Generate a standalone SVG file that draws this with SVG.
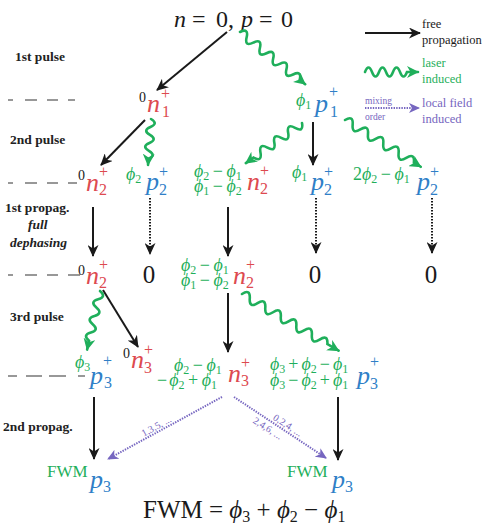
<svg xmlns="http://www.w3.org/2000/svg" width="499" height="525" viewBox="0 0 499 525">
<style>
text{font-family:"Liberation Serif","DejaVu Serif",serif;}
.i{font-style:italic;}
.lab{font-weight:bold;font-size:13.5px;fill:#222;}
.k{fill:#1a1a1a;}
.r{fill:#dd4a4f;}
.b{fill:#2f7fc7;}
.g{fill:#1faf5b;}
.pu{fill:#7666c0;}
.big{font-size:26px;font-style:italic;}
.sup{font-size:16px;}
.pre{font-size:14px;fill:#1a1a1a;}
.ph{font-size:18px;font-style:italic;fill:#1faf5b;}
.s{font-size:12px;font-style:normal;}
.n{font-style:normal;}
.zero{font-size:25px;fill:#1a1a1a;}
.arr{stroke:#1a1a1a;stroke-width:2;fill:none;marker-end:url(#ak);}
.dot{stroke:#1a1a1a;stroke-width:2;fill:none;stroke-dasharray:1.6,1.4;marker-end:url(#ak);}
.wav{stroke:#1faf5b;stroke-width:2.6;fill:none;marker-end:url(#ag);stroke-linecap:round;}
.pd{stroke:#7666c0;stroke-width:2;fill:none;stroke-dasharray:1.4,1.2;marker-end:url(#ap);}
.dash{stroke:#333;stroke-width:1.2;fill:none;}
.leg{font-size:12.5px;}
</style>
<defs>
<marker id="ak" markerUnits="userSpaceOnUse" markerWidth="13" markerHeight="11" refX="11" refY="5.5" orient="auto"><path d="M0,0 L12,5.5 L0,11 L3.5,5.5 Z" fill="#1a1a1a"/></marker>
<marker id="ag" markerUnits="userSpaceOnUse" markerWidth="13" markerHeight="12" refX="11" refY="6" orient="auto"><path d="M0,0 L12,6 L0,12 L3.5,6 Z" fill="#1faf5b"/></marker>
<marker id="ap" markerUnits="userSpaceOnUse" markerWidth="12" markerHeight="10" refX="10" refY="5" orient="auto"><path d="M0,0 L11,5 L0,10 L3,5 Z" fill="#7666c0"/></marker>
</defs>

<!-- left labels -->
<g id="labels">
<text class="lab" x="15" y="61">1st pulse</text>
<text class="lab" x="10" y="144">2nd pulse</text>
<text class="lab" x="5" y="212">1st propag.</text>
<text class="lab i" x="28" y="229">full</text>
<text class="lab i" x="10" y="247">dephasing</text>
<text class="lab" x="10" y="321">3rd pulse</text>
<text class="lab" x="3" y="431">2nd propag.</text>
<path class="dash" d="M8,100 H13 M25,100 H37 M47,100 H58 M68,100 H75"/>
<path class="dash" d="M8,183 H13 M25,183 H37 M47,183 H58 M68,183 H77"/>
<path class="dash" d="M8,275 H13 M25,275 H37 M47,275 H58 M68,275 H80"/>
<path class="dash" d="M8,376 H17 M26,376 H42 M49,376 H66 M78,376 H85"/>
</g>

<!-- title -->
<g id="start">
<text class="k" font-size="24" y="27"><tspan class="i" x="174">n</tspan><tspan x="192">=</tspan><tspan x="216">0,</tspan><tspan class="i" x="241">p</tspan><tspan x="259">=</tspan><tspan x="281">0</tspan></text>
</g>

<!-- legend -->
<g id="legend">
<path class="arr" d="M365,33 H420"/>
<text class="leg k" x="422" y="28">free</text>
<text class="leg k" x="422" y="44">propagation</text>
<path class="wav" transform="translate(365,72)" d="M0,0 q3.5,-9 7,0 t7,0 t7,0 t7,0 t7,0 t7,0 h11"/>
<text class="leg g" x="422" y="67">laser</text>
<text class="leg g" x="422" y="83">induced</text>
<text class="pu" font-size="9.5" x="365" y="104">mixing</text>
<text class="pu" font-size="9.5" x="365" y="120">order</text>
<path class="pd" d="M365,108 H419"/>
<text class="leg pu" x="422" y="107">local field</text>
<text class="leg pu" x="422" y="123">induced</text>
</g>

<!-- nodes row 1 -->
<g id="n1">
<text class="pre" x="139" y="102">0</text>
<text class="big r" x="147" y="112">n</text>
<text class="sup r" x="161" y="99">+</text>
<text class="sup r" x="162" y="117">1</text>
</g>
<g id="p1">
<text class="ph" x="296" y="106">ϕ<tspan class="s" dy="3">1</tspan></text>
<text class="big b" x="315" y="112">p</text>
<text class="sup b" x="329" y="97">+</text>
<text class="sup b" x="330" y="117">1</text>
</g>

<!-- row 2 -->
<g id="n2a">
<text class="pre" x="78" y="180">0</text>
<text class="big r" x="86" y="191">n</text>
<text class="sup r" x="99" y="177">+</text>
<text class="sup r" x="99" y="195">2</text>
</g>
<g id="p2a">
<text class="ph" x="126" y="180">ϕ<tspan class="s" dy="3">2</tspan></text>
<text class="big b" x="146" y="190">p</text>
<text class="sup b" x="159" y="177">+</text>
<text class="sup b" x="159" y="195">2</text>
</g>
<g id="n2b">
<text class="ph"><tspan x="194" y="177">ϕ</tspan><tspan class="s" dy="3">2</tspan><tspan class="n" dy="-3" dx="3.5">−</tspan><tspan dx="3.5">ϕ</tspan><tspan class="s" dy="3">1</tspan><tspan x="194" y="192">ϕ</tspan><tspan class="s" dy="3">1</tspan><tspan class="n" dy="-3" dx="3.5">−</tspan><tspan dx="3.5">ϕ</tspan><tspan class="s" dy="3">2</tspan></text>
<text class="big r" x="247" y="190">n</text>
<text class="sup r" x="260" y="176">+</text>
<text class="sup r" x="260" y="194">2</text>
</g>
<g id="p2b">
<text class="ph" x="292" y="178">ϕ<tspan class="s" dy="3">1</tspan></text>
<text class="big b" x="311" y="190">p</text>
<text class="sup b" x="324" y="177">+</text>
<text class="sup b" x="324" y="195">2</text>
</g>
<g id="p2c">
<text class="ph" x="353" y="180"><tspan class="n">2</tspan>ϕ<tspan class="s" dy="3">2</tspan><tspan class="n" dy="-3" dx="3.5">−</tspan><tspan dx="3.5">ϕ</tspan><tspan class="s" dy="3">1</tspan></text>
<text class="big b" x="417" y="190">p</text>
<text class="sup b" x="430" y="177">+</text>
<text class="sup b" x="430" y="195">2</text>
</g>

<!-- row 3 -->
<g id="n2c">
<text class="pre" x="78" y="275">0</text>
<text class="big r" x="86" y="284">n</text>
<text class="sup r" x="99" y="270">+</text>
<text class="sup r" x="99" y="288">2</text>
</g>
<g id="z1"><text class="zero" x="149" y="283" text-anchor="middle">0</text></g>
<g id="n2d">
<text class="ph"><tspan x="181" y="271">ϕ</tspan><tspan class="s" dy="3">2</tspan><tspan class="n" dy="-3" dx="3.5">−</tspan><tspan dx="3.5">ϕ</tspan><tspan class="s" dy="3">1</tspan><tspan x="181" y="286">ϕ</tspan><tspan class="s" dy="3">1</tspan><tspan class="n" dy="-3" dx="3.5">−</tspan><tspan dx="3.5">ϕ</tspan><tspan class="s" dy="3">2</tspan></text>
<text class="big r" x="233" y="284">n</text>
<text class="sup r" x="246" y="270">+</text>
<text class="sup r" x="246" y="288">2</text>
</g>
<g id="z2"><text class="zero" x="315" y="283" text-anchor="middle">0</text></g>
<g id="z3"><text class="zero" x="431" y="283" text-anchor="middle">0</text></g>

<!-- row 4 -->
<g id="p3a">
<text class="ph" x="75" y="368">ϕ<tspan class="s" dy="3">3</tspan></text>
<text class="big b" x="90" y="384">p</text>
<text class="sup b" x="103" y="366">+</text>
<text class="sup b" x="104" y="388">3</text>
</g>
<g id="n3a">
<text class="pre" x="123" y="358">0</text>
<text class="big r" x="131" y="368">n</text>
<text class="sup r" x="144" y="355">+</text>
<text class="sup r" x="144" y="373">3</text>
</g>
<g id="n3b">
<text class="ph"><tspan x="174" y="371">ϕ</tspan><tspan class="s" dy="3">2</tspan><tspan class="n" dy="-3" dx="3.5">−</tspan><tspan dx="3.5">ϕ</tspan><tspan class="s" dy="3">1</tspan><tspan class="n" x="157" y="386">−</tspan><tspan dx="2">ϕ</tspan><tspan class="s" dy="3">2</tspan><tspan class="n" dy="-3" dx="3.5">+</tspan><tspan dx="3.5">ϕ</tspan><tspan class="s" dy="3">1</tspan></text>
<text class="big r" x="228" y="382">n</text>
<text class="sup r" x="241" y="368">+</text>
<text class="sup r" x="241" y="386">3</text>
</g>
<g id="p3b">
<text class="ph"><tspan x="270" y="370">ϕ</tspan><tspan class="s" dy="3">3</tspan><tspan class="n" dy="-3" dx="3">+</tspan><tspan dx="3">ϕ</tspan><tspan class="s" dy="3">2</tspan><tspan class="n" dy="-3" dx="3">−</tspan><tspan dx="3">ϕ</tspan><tspan class="s" dy="3">1</tspan><tspan x="270" y="386">ϕ</tspan><tspan class="s" dy="3">3</tspan><tspan class="n" dy="-3" dx="3">−</tspan><tspan dx="3">ϕ</tspan><tspan class="s" dy="3">2</tspan><tspan class="n" dy="-3" dx="3">+</tspan><tspan dx="3">ϕ</tspan><tspan class="s" dy="3">1</tspan></text>
<text class="big b" x="357" y="384">p</text>
<text class="sup b" x="370" y="367">+</text>
<text class="sup b" x="370" y="389">3</text>
</g>

<!-- row 5 -->
<g id="fwm1">
<text class="g" font-size="17" x="47" y="477">FWM</text>
<text class="big b" x="90" y="488" font-size="24">p</text>
<text class="sup b" x="103" y="492">3</text>
</g>
<g id="fwm2">
<text class="g" font-size="17" x="287" y="477">FWM</text>
<text class="big b" x="332" y="488" font-size="24">p</text>
<text class="sup b" x="345" y="492">3</text>
</g>
<g id="formula">
<text class="k" font-size="25" x="143" y="518">FWM = <tspan class="i">ϕ</tspan><tspan font-size="16" dy="4">3</tspan><tspan dy="-4"> + </tspan><tspan class="i">ϕ</tspan><tspan font-size="16" dy="4">2</tspan><tspan dy="-4"> − </tspan><tspan class="i">ϕ</tspan><tspan font-size="16" dy="4">1</tspan></text>
</g>

<!-- connectors -->
<g id="connectors">
<path class="arr" d="M227,32 L157,90"/>
<path class="arr" d="M145,120 L101,165"/>
<path class="arr" d="M313,122 V165"/>
<path class="arr" d="M93,207 V256"/>
<path class="arr" d="M228,207 V256"/>
<path class="arr" d="M103,290 L138,347"/>
<path class="arr" d="M228,293 V352"/>
<path class="arr" d="M94,397 V459"/>
<path class="arr" d="M338,397 V460"/>
<path class="dot" d="M150,198 V254"/>
<path class="dot" d="M316,198 V253"/>
<path class="dot" d="M432,198 V253"/>
<path class="pd" d="M222,397 L108,459"/>
<path class="pd" d="M234,397 L326,458"/>
<path class="wav" transform="translate(240,32) rotate(38.7)" d="M0,0 q4.25,-9 8.5,0 t8.5,0 t8.5,0 t8.5,0 t8.5,0 t8.5,0 t8.5,0 t8.5,0 t8.5,0 h7"/>
<path class="wav" transform="translate(151,119) rotate(93.7)" d="M0,0 q4,-8 8,0 t8,0 t8,0 t8,0 t8,0 h6"/>
<path class="wav" transform="translate(302,123) rotate(144.5)" d="M0,0 q4.25,-9 8.5,0 t8.5,0 t8.5,0 t8.5,0 t8.5,0 t8.5,0 t8.5,0 h9.5"/>
<path class="wav" transform="translate(345,120) rotate(31.7)" d="M0,0 q4.5,-9 9,0 t9,0 t9,0 t9,0 t9,0 t9,0 t9,0 t9,0 t9,0 h8"/>
<path class="wav" transform="translate(100,291) rotate(102.4)" d="M0,0 q4.25,-8 8.5,0 t8.5,0 t8.5,0 t8.5,0 t8.5,0 t8.5,0 h9"/>
<path class="wav" transform="translate(242,294) rotate(30.4)" d="M0,0 q4.5,-9 9,0 t9,0 t9,0 t9,0 t9,0 t9,0 t9,0 t9,0 t9,0 t9,0 t9,0 h13"/>
<text class="pu" font-size="10" x="158" y="429" text-anchor="middle" transform="rotate(-28.7,158,429)">1,3,5, ...</text>
<text class="pu" font-size="10" x="286" y="428" text-anchor="middle" transform="rotate(33,286,428)">0,2,4, ...</text>
<text class="pu" font-size="10" x="266" y="431" text-anchor="middle" transform="rotate(33,266,431)">2,4,6, ...</text>
</g>
</svg>
